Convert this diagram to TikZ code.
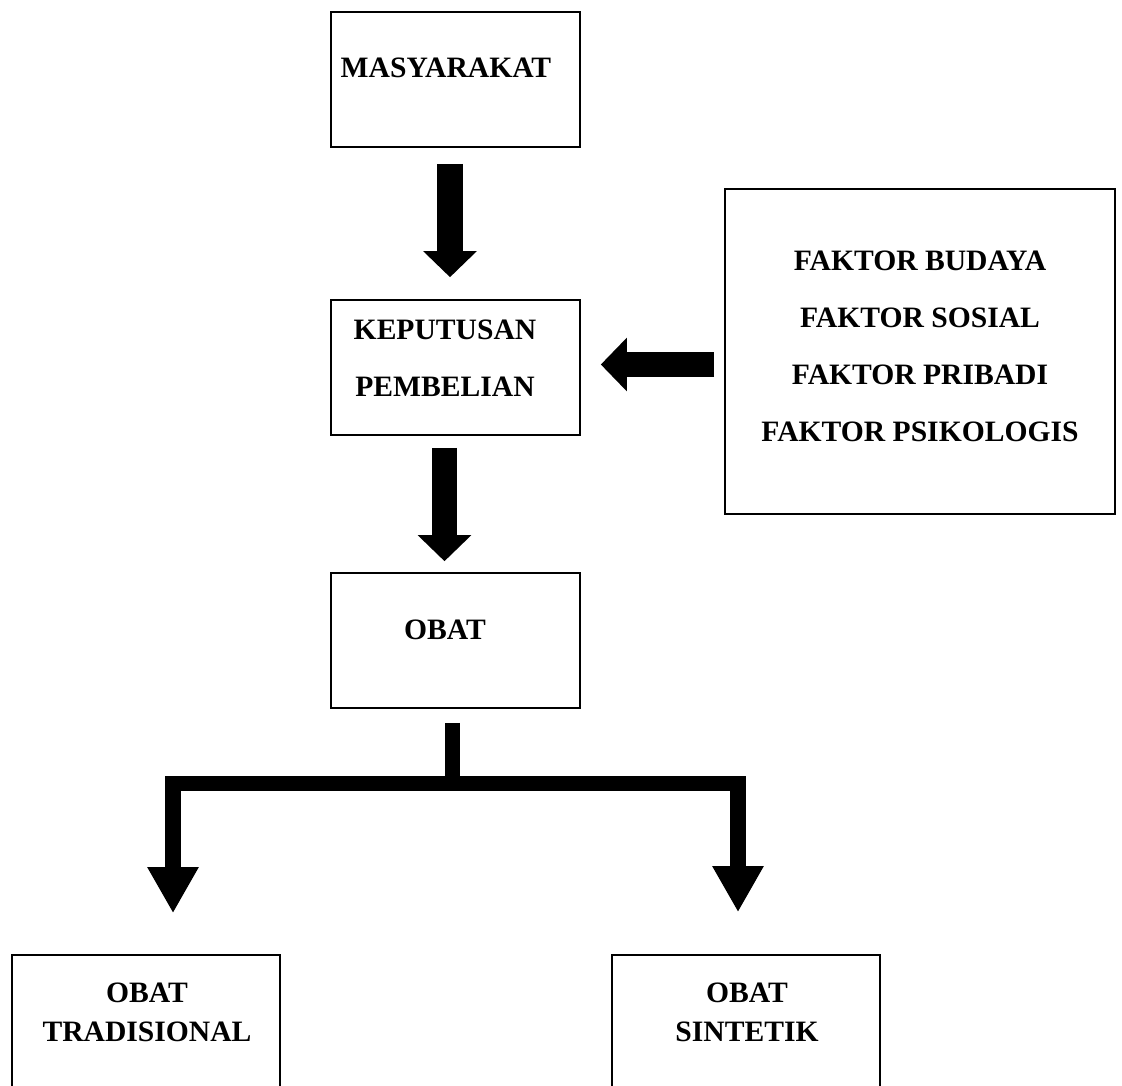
\documentclass[tikz,border=0pt]{standalone}
\usepackage{fontspec}
\setmainfont{Liberation Serif}
\usetikzlibrary{arrows.meta}
\begin{document}
\begin{tikzpicture}[x=1pt,y=-1pt,
  box/.style={draw, line width=1.6pt, minimum width=249pt, minimum height=135pt, inner sep=0pt},
  lbl/.style={font=\fontsize{29.6}{57}\selectfont\bfseries, align=center, inner sep=0pt},
  lblb/.style={font=\fontsize{29.6}{39}\selectfont\bfseries, align=center, inner sep=0pt},
  bigarrow/.style={line width=25.5pt, -{Triangle[width=52pt,length=26pt]}},
  branch/.style={line width=15.5pt, line join=miter, -{Triangle[width=48pt,length=46pt]}}]
\useasboundingbox (0,0) rectangle (1122,1085);
\clip (0,0) rectangle (1122,1085);

% boxes
\node[box] (mas) at (455.5,79.5) {};
\node[lbl] (masT) at (446,68) {MASYARAKAT};
\node[box] (kep) at (455.5,367.5) {};
\node[lbl] (kepT) at (445,358.5) {KEPUTUSAN\\PEMBELIAN};
\node[box] (obat) at (455.5,640.5) {};
\node[lbl] (obatT) at (445,630) {OBAT};
\node[box, minimum width=390pt, minimum height=325pt] (fak) at (920,351.5) {};
\node[lbl] (fakT) at (920,346) {FAKTOR BUDAYA\\FAKTOR SOSIAL\\FAKTOR PRIBADI\\FAKTOR PSIKOLOGIS};
\node[box, minimum width=268pt, minimum height=145pt] (tl) at (146,1027.5) {};
\node[lblb] (tlT) at (147,1012.5) {OBAT\\TRADISIONAL};
\node[box, minimum width=268pt, minimum height=145pt] (tr) at (746,1027.5) {};
\node[lblb] (trT) at (747,1012.5) {OBAT\\SINTETIK};

% arrows
\draw[bigarrow] ([xshift=-5.5pt,yshift=-16pt]mas.south) -- ([xshift=-5.5pt,yshift=22pt]kep.north);
\draw[bigarrow] ([xshift=-11pt,yshift=-12pt]kep.south) -- ([xshift=-11pt,yshift=11pt]obat.north);
\draw[bigarrow] ([xshift=-10pt,yshift=-13pt]fak.west) -- ([xshift=20pt,yshift=3pt]kep.east);

% branch
\coordinate (split) at (452.5,783.5);
\draw[line width=15pt] ([xshift=-3pt,yshift=-14pt]obat.south) -- (split);
\draw[branch] (split) -| ([xshift=27pt,yshift=41pt]tl.north);
\draw[branch] (split) -| ([xshift=-8pt,yshift=42pt]tr.north);
\end{tikzpicture}
\end{document}
